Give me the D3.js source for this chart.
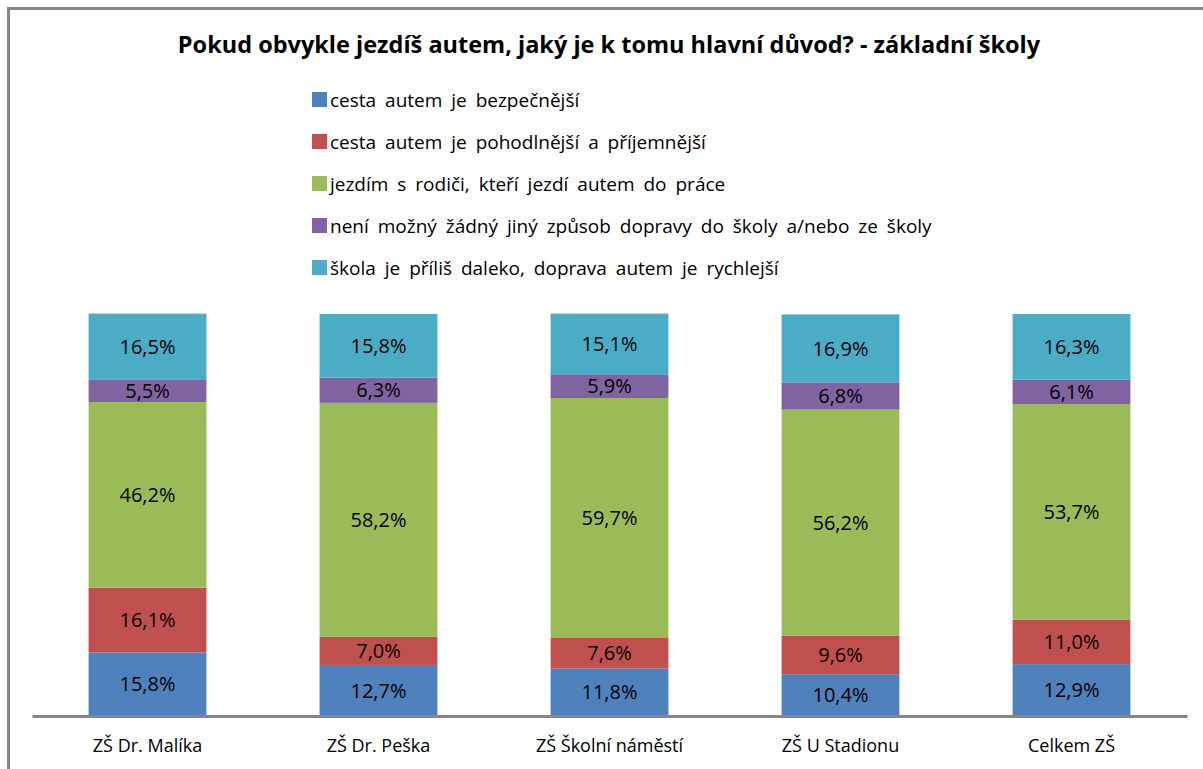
<!doctype html>
<html lang="cs">
<head>
<meta charset="utf-8">
<script src="https://cdn.jsdelivr.net/npm/d3@7"></script>
<style>
  html, body { margin: 0; background: #fff; }
  svg { display: block; font-family: "Open Sans", "DejaVu Sans", sans-serif; }
</style>
</head>
<body>
<svg id="chart" width="1203" height="769"></svg>
<script>
const title = "Pokud obvykle jezdíš autem, jaký je k tomu hlavní důvod? - základní školy";
const schools = ["ZŠ Dr. Malíka", "ZŠ Dr. Peška", "ZŠ Školní náměstí", "ZŠ U Stadionu", "Celkem ZŠ"];
const reasons = [
  "cesta autem je bezpečnější",
  "cesta autem je pohodlnější a příjemnější",
  "jezdím s rodiči, kteří jezdí autem do práce",
  "není možný žádný jiný způsob dopravy do školy a/nebo ze školy",
  "škola je příliš daleko, doprava autem je rychlejší"
];
const safer   = [15.8, 12.7, 11.8, 10.4, 12.9];
const comfort = [16.1, 7.0, 7.6, 9.6, 11.0];
const parents = [46.2, 58.2, 59.7, 56.2, 53.7];
const noOther = [5.5, 6.3, 5.9, 6.8, 6.1];
const far     = [16.5, 15.8, 15.1, 16.9, 16.3];
const colors = ["#4f81bd", "#c0504d", "#9bbb59", "#8064a2", "#4bacc6"];

const series = [safer, comfort, parents, noOther, far];
const rows = schools.map((s, i) => {
  const r = { school: s };
  reasons.forEach((k, j) => r[k] = series[j][i]);
  return r;
});

const svg = d3.select("#chart");

// outer frame
svg.append("rect")
  .attr("x", 8.5).attr("y", 8.5).attr("width", 1203).attr("height", 769)
  .attr("fill", "none").attr("stroke", "#868686").attr("stroke-width", 3);

svg.append("text")
  .attr("x", 609).attr("y", 53)
  .attr("text-anchor", "middle")
  .attr("font-size", 23.5).attr("font-weight", "bold")
  .text(title);

// legend
const legend = svg.append("g").selectAll("g")
  .data(reasons)
  .join("g")
  .attr("transform", (d, i) => `translate(312,${100 + i * 42})`);
legend.append("rect")
  .attr("x", 0).attr("y", -8).attr("width", 15).attr("height", 15)
  .attr("fill", (d, i) => colors[i]);
legend.append("text")
  .attr("x", 18).attr("y", 0).attr("dy", "0.35em")
  .attr("font-size", 19).attr("word-spacing", 4).attr("fill", "#000")
  .text(d => d);

const x = d3.scaleBand().domain(schools).range([32, 1187]).paddingInner(0.49).paddingOuter(0.245);
const y = d3.scaleLinear().domain([0, 100]).range([716, 314]);

const stacked = d3.stack().keys(reasons)(rows);

const layer = svg.append("g").selectAll("g")
  .data(stacked)
  .join("g")
  .attr("fill", (d, i) => colors[i]);

layer.selectAll("rect")
  .data(d => d)
  .join("rect")
  .attr("x", d => x(d.data.school))
  .attr("width", x.bandwidth())
  .attr("y", d => y(d[1]))
  .attr("height", d => y(d[0]) - y(d[1]));

layer.selectAll("text")
  .data(d => d)
  .join("text")
  .attr("x", d => x(d.data.school) + x.bandwidth() / 2)
  .attr("y", d => (y(d[0]) + y(d[1])) / 2)
  .attr("dy", "0.36em")
  .attr("text-anchor", "middle")
  .attr("font-size", 20)
  .attr("fill", "#000")
  .text(d => d3.format(".1f")(d[1] - d[0]).replace(".", ",") + "%");

// category axis
const axis = svg.append("g").attr("transform", "translate(0,716)")
  .call(d3.axisBottom(x).tickSize(0).tickPadding(23));
axis.select(".domain").attr("stroke", "#868686").attr("stroke-width", 3);
axis.selectAll("text").attr("font-size", 18).attr("fill", "#000")
  .attr("font-family", "Open Sans, DejaVu Sans, sans-serif");
</script>
</body>
</html>
